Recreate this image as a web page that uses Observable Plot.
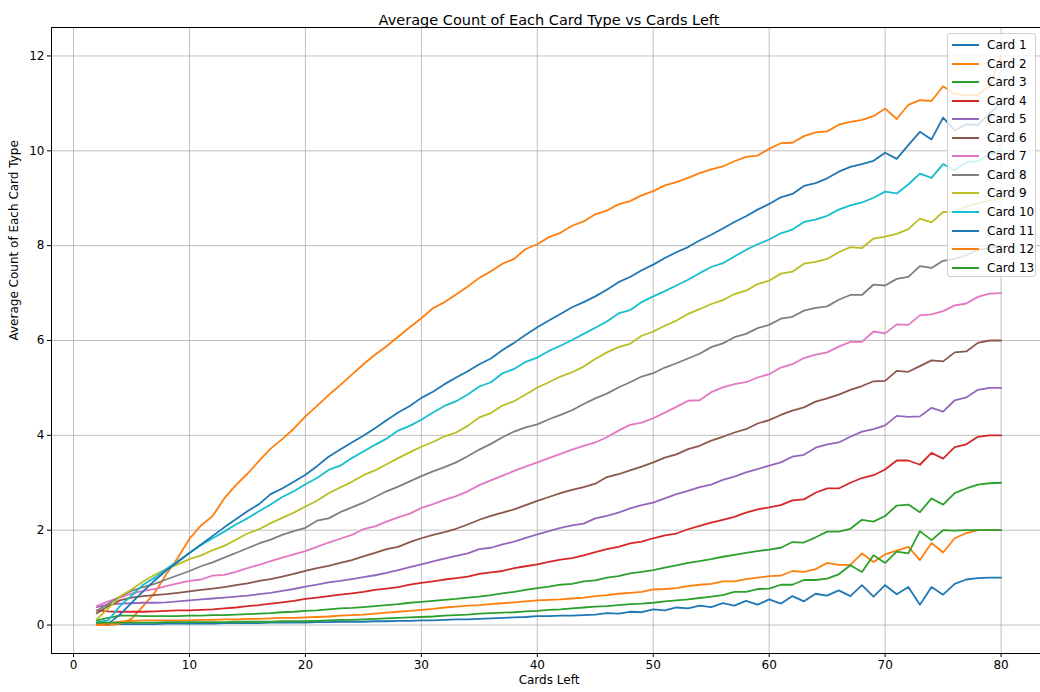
<!DOCTYPE html>
<html>
<head>
<meta charset="utf-8">
<script src="https://cdn.jsdelivr.net/npm/d3@7"></script>
<script src="https://cdn.jsdelivr.net/npm/@observablehq/plot@0.6"></script>
<style>
  html, body { margin: 0; padding: 0; background: #fff; }
  #wrap { position: relative; width: 1040px; height: 692px; font-family: "DejaVu Sans", sans-serif; }
  #legend { position: absolute; left: 947px; top: 33px; width: 89px; height: 244px; box-sizing: border-box;
            background: rgba(255,255,255,0.8); border: 1px solid #d0d0d0; border-radius: 3px; }
  .item { position: absolute; left: 0; height: 18px; font-size: 12px; line-height: 18px; color: #000; white-space: nowrap; }
  .item .sw { position: absolute; left: 4px; top: 8px; width: 27px; height: 2px; }
  .item .lb { position: absolute; left: 39px; top: 0; }
</style>
</head>
<body>
<div id="wrap"><div id="legend"></div></div>
<script>
const titleText = "Average Count of Each Card Type vs Cards Left";
const xLabel = "Cards Left";
const yLabel = "Average Count of Each Card Type";
const xTicks = [0, 10, 20, 30, 40, 50, 60, 70, 80];
const yTicks = [0, 2, 4, 6, 8, 10, 12];
const cardNames = ["Card 1","Card 2","Card 3","Card 4","Card 5","Card 6","Card 7","Card 8","Card 9","Card 10","Card 11","Card 12","Card 13"];
const cardColors = ["#1f77b4","#ff7f0e","#2ca02c","#d62728","#9467bd","#8c564b","#e377c2","#7f7f7f","#bcbd22","#17becf","#1f77b4","#ff7f0e","#2ca02c"];
const cardsLeft = [2,3,4,5,6,7,8,9,10,11,12,13,14,15,16,17,18,19,20,21,22,23,24,25,26,27,28,29,30,31,32,33,34,35,36,37,38,39,40,41,42,43,44,45,46,47,48,49,50,51,52,53,54,55,56,57,58,59,60,61,62,63,64,65,66,67,68,69,70,71,72,73,74,75,76,77,78,79,80];

const card1 = [0.01,0.01,0.02,0.02,0.02,0.02,0.03,0.03,0.03,
0.03,0.03,0.04,0.04,0.04,0.04,0.05,0.05,0.05,0.05,
0.06,0.06,0.07,0.07,0.07,0.08,0.08,0.09,0.09,0.10,
0.10,0.11,0.12,0.12,0.13,0.14,0.15,0.16,0.17,0.19,
0.19,0.20,0.20,0.21,0.22,0.25,0.24,0.28,0.27,0.33,
0.31,0.37,0.35,0.41,0.38,0.46,0.41,0.51,0.43,0.54,
0.45,0.61,0.50,0.66,0.62,0.73,0.61,0.84,0.60,0.84,
0.65,0.80,0.43,0.80,0.64,0.87,0.96,0.99,1.00,1.00];
const card2 = [0.00,0.00,0.03,0.13,0.40,0.68,1.07,1.42,1.82,
2.10,2.30,2.67,2.95,3.19,3.46,3.72,3.92,4.14,4.40,
4.62,4.85,5.06,5.28,5.50,5.70,5.88,6.08,6.28,6.47,
6.68,6.81,6.97,7.14,7.32,7.46,7.62,7.72,7.93,8.03,
8.18,8.27,8.42,8.51,8.66,8.74,8.87,8.94,9.06,9.15,
9.27,9.34,9.43,9.53,9.61,9.67,9.78,9.87,9.90,10.04,
10.16,10.17,10.31,10.39,10.41,10.55,10.61,10.65,10.73,10.89,
10.67,10.97,11.07,11.05,11.36,11.20,11.17,11.18,11.36,12.00];
const card3 = [0.10,0.15,0.20,0.20,0.19,0.19,0.19,0.19,0.20,
0.20,0.21,0.21,0.22,0.23,0.24,0.25,0.27,0.28,0.30,
0.31,0.33,0.35,0.36,0.38,0.40,0.42,0.44,0.47,0.49,
0.51,0.53,0.55,0.58,0.60,0.63,0.67,0.70,0.74,0.78,
0.81,0.85,0.87,0.92,0.94,1.00,1.03,1.09,1.12,1.16,
1.21,1.26,1.31,1.35,1.39,1.44,1.48,1.52,1.56,1.59,
1.63,1.75,1.74,1.85,1.97,1.97,2.03,2.22,2.18,2.30,
2.52,2.54,2.38,2.67,2.54,2.78,2.88,2.96,2.99,3.00];
const card4 = [0.31,0.29,0.28,0.28,0.28,0.29,0.30,0.31,0.31,
0.32,0.33,0.35,0.37,0.40,0.42,0.45,0.48,0.51,0.55,
0.58,0.61,0.64,0.67,0.70,0.74,0.77,0.80,0.85,0.89,
0.92,0.96,0.99,1.02,1.08,1.11,1.14,1.20,1.24,1.28,
1.33,1.38,1.41,1.47,1.54,1.60,1.65,1.72,1.76,1.83,
1.89,1.93,2.02,2.09,2.16,2.22,2.28,2.37,2.44,2.48,
2.53,2.63,2.65,2.79,2.88,2.88,3.00,3.10,3.16,3.28,
3.47,3.47,3.38,3.63,3.51,3.75,3.81,3.97,4.00,4.00];
const card5 = [0.38,0.43,0.45,0.46,0.47,0.47,0.48,0.50,0.52,
0.54,0.56,0.58,0.60,0.62,0.65,0.68,0.72,0.76,0.81,
0.85,0.90,0.93,0.97,1.01,1.05,1.10,1.16,1.22,1.28,
1.34,1.40,1.46,1.51,1.60,1.63,1.70,1.76,1.84,1.91,
1.98,2.05,2.10,2.14,2.25,2.30,2.37,2.46,2.53,2.58,
2.67,2.76,2.83,2.91,2.96,3.06,3.13,3.22,3.29,3.36,
3.43,3.55,3.59,3.74,3.81,3.85,3.97,4.08,4.13,4.21,
4.41,4.39,4.40,4.58,4.50,4.74,4.80,4.96,5.00,5.00];
const card6 = [0.25,0.40,0.52,0.58,0.61,0.63,0.65,0.68,0.71,
0.74,0.77,0.80,0.84,0.88,0.93,0.97,1.02,1.08,1.14,
1.20,1.25,1.31,1.37,1.45,1.52,1.60,1.65,1.75,1.83,
1.90,1.96,2.03,2.12,2.22,2.30,2.37,2.44,2.53,2.62,
2.70,2.78,2.85,2.91,2.98,3.12,3.18,3.26,3.34,3.43,
3.53,3.60,3.71,3.78,3.89,3.97,4.06,4.13,4.25,4.32,
4.43,4.52,4.59,4.71,4.78,4.86,4.96,5.04,5.14,5.15,
5.36,5.34,5.46,5.58,5.56,5.75,5.77,5.95,6.00,6.00];
const card7 = [0.40,0.50,0.58,0.66,0.72,0.76,0.82,0.88,0.93,
0.96,1.04,1.06,1.12,1.20,1.27,1.35,1.42,1.49,1.56,
1.65,1.74,1.82,1.90,2.02,2.08,2.18,2.27,2.35,2.47,
2.55,2.64,2.72,2.82,2.95,3.05,3.15,3.25,3.34,3.43,
3.52,3.61,3.70,3.78,3.85,3.96,4.10,4.22,4.27,4.36,
4.48,4.60,4.73,4.74,4.91,5.01,5.08,5.12,5.22,5.29,
5.43,5.50,5.63,5.70,5.75,5.87,5.97,5.97,6.19,6.15,
6.34,6.33,6.53,6.55,6.62,6.74,6.78,6.92,6.99,7.00];
const card8 = [0.30,0.45,0.60,0.72,0.80,0.87,0.96,1.05,1.14,
1.24,1.32,1.42,1.52,1.62,1.72,1.80,1.90,1.98,2.05,
2.20,2.25,2.38,2.48,2.58,2.70,2.82,2.92,3.03,3.14,
3.24,3.33,3.43,3.56,3.70,3.82,3.96,4.08,4.17,4.23,
4.34,4.43,4.53,4.66,4.78,4.88,5.01,5.12,5.24,5.31,
5.43,5.52,5.62,5.72,5.86,5.94,6.07,6.14,6.26,6.33,
6.46,6.50,6.63,6.69,6.72,6.86,6.96,6.96,7.18,7.16,
7.30,7.34,7.57,7.53,7.68,7.72,7.80,7.91,7.95,8.00];
const card9 = [0.12,0.35,0.60,0.75,0.92,1.06,1.18,1.28,1.39,
1.47,1.58,1.67,1.80,1.93,2.02,2.15,2.26,2.37,2.50,
2.62,2.78,2.90,3.02,3.16,3.26,3.39,3.52,3.64,3.76,
3.86,3.98,4.06,4.20,4.38,4.47,4.63,4.72,4.86,5.01,
5.12,5.24,5.33,5.45,5.61,5.75,5.86,5.93,6.10,6.19,
6.31,6.42,6.56,6.66,6.77,6.85,6.98,7.05,7.19,7.26,
7.41,7.45,7.62,7.66,7.72,7.86,7.97,7.95,8.15,8.19,
8.25,8.35,8.57,8.49,8.71,8.71,8.83,8.89,8.95,9.00];
const card10 = [0.06,0.10,0.40,0.62,0.85,1.00,1.18,1.35,1.52,
1.69,1.83,1.97,2.12,2.25,2.40,2.54,2.70,2.82,2.97,
3.10,3.27,3.36,3.52,3.66,3.80,3.93,4.10,4.20,4.33,
4.48,4.62,4.72,4.86,5.03,5.12,5.31,5.40,5.55,5.64,
5.78,5.89,6.01,6.14,6.27,6.40,6.57,6.64,6.81,6.93,
7.04,7.16,7.28,7.42,7.55,7.63,7.77,7.91,8.03,8.13,
8.26,8.34,8.50,8.55,8.63,8.76,8.85,8.91,9.01,9.14,
9.10,9.29,9.52,9.43,9.72,9.59,9.76,9.78,9.92,10.00];
const card11 = [0.02,0.03,0.22,0.47,0.71,0.94,1.15,1.33,1.52,
1.70,1.88,2.06,2.23,2.40,2.55,2.76,2.88,3.02,3.17,
3.35,3.55,3.70,3.85,3.99,4.15,4.32,4.48,4.62,4.79,
4.92,5.08,5.22,5.35,5.50,5.62,5.80,5.95,6.12,6.28,
6.42,6.56,6.70,6.81,6.93,7.07,7.23,7.34,7.48,7.60,
7.74,7.86,7.97,8.11,8.23,8.36,8.50,8.62,8.76,8.88,
9.02,9.09,9.26,9.32,9.42,9.56,9.66,9.72,9.79,9.96,
9.83,10.12,10.40,10.24,10.70,10.43,10.56,10.54,10.79,11.00];
const card12 = [0.01,0.04,0.07,0.09,0.10,0.10,0.10,0.10,0.10,
0.11,0.11,0.12,0.12,0.13,0.13,0.14,0.15,0.15,0.16,
0.17,0.18,0.20,0.21,0.22,0.24,0.26,0.28,0.30,0.32,
0.34,0.37,0.39,0.41,0.42,0.44,0.46,0.48,0.50,0.52,
0.53,0.54,0.56,0.58,0.61,0.63,0.66,0.68,0.70,0.75,
0.76,0.78,0.82,0.85,0.87,0.92,0.92,0.97,1.00,1.03,
1.04,1.14,1.12,1.18,1.31,1.27,1.27,1.51,1.33,1.49,
1.57,1.65,1.37,1.73,1.53,1.83,1.94,2.00,2.00,2.00];
const card13 = [0.05,0.05,0.05,0.05,0.05,0.05,0.06,0.06,0.06,
0.06,0.06,0.06,0.07,0.07,0.07,0.07,0.08,0.08,0.08,
0.09,0.10,0.11,0.11,0.12,0.13,0.14,0.15,0.16,0.17,
0.18,0.20,0.21,0.22,0.24,0.25,0.26,0.27,0.29,0.30,
0.32,0.33,0.35,0.37,0.39,0.40,0.42,0.44,0.45,0.47,
0.50,0.52,0.54,0.57,0.60,0.63,0.70,0.70,0.76,0.77,
0.85,0.85,0.95,0.95,0.98,1.07,1.26,1.12,1.47,1.31,
1.55,1.51,1.98,1.79,2.00,1.99,2.00,2.00,2.00,2.00];

const allSeries = [card1,card2,card3,card4,card5,card6,card7,card8,card9,card10,card11,card12,card13];

const rows = [];
allSeries.forEach((s, i) => s.forEach((v, j) => rows.push({card: cardNames[i], left: cardsLeft[j], value: v})));

const gridStyle = {stroke: "#b0b0b0", strokeOpacity: 1, strokeWidth: 0.8};

const chart = Plot.plot({
  width: 1040,
  height: 692,
  marginLeft: 51,
  marginRight: 0,
  marginTop: 27,
  marginBottom: 39,
  style: {fontFamily: "DejaVu Sans", fontSize: "12px", color: "#000", background: "#fff", overflow: "visible"},
  x: {domain: [-1.9, 83.4], label: null},
  y: {domain: [-0.6, 12.6], label: null},
  color: {domain: cardNames, range: cardColors},
  marks: [
    Plot.gridX(xTicks, {...gridStyle}),
    Plot.gridY(yTicks, {...gridStyle}),
    Plot.line(rows, {x: "left", y: "value", z: "card", stroke: "card", strokeWidth: 1.8}),
    Plot.frame({stroke: "#000", strokeWidth: 1}),
    Plot.axisX(xTicks, {tickSize: 4, tickPadding: 3, fontSize: 12, label: null}),
    Plot.axisY(yTicks, {tickSize: 4, tickPadding: 3, fontSize: 12, label: null}),
    Plot.text([titleText], {frameAnchor: "top", dy: -13, dx: 3, fontSize: 14.5}),
    Plot.text([xLabel], {frameAnchor: "bottom", dy: 30, dx: 3, fontSize: 12}),
    Plot.text([yLabel], {frameAnchor: "left", dx: -37, rotate: -90, fontSize: 12})
  ]
});
document.getElementById("wrap").prepend(chart);

const legend = document.getElementById("legend");
cardNames.forEach((name, i) => {
  const item = document.createElement("div");
  item.className = "item";
  item.style.top = (2 + i * 18.56) + "px";
  const sw = document.createElement("div");
  sw.className = "sw";
  sw.style.background = cardColors[i];
  const lb = document.createElement("div");
  lb.className = "lb";
  lb.textContent = name;
  item.appendChild(sw);
  item.appendChild(lb);
  legend.appendChild(item);
});
</script>
</body>
</html>
